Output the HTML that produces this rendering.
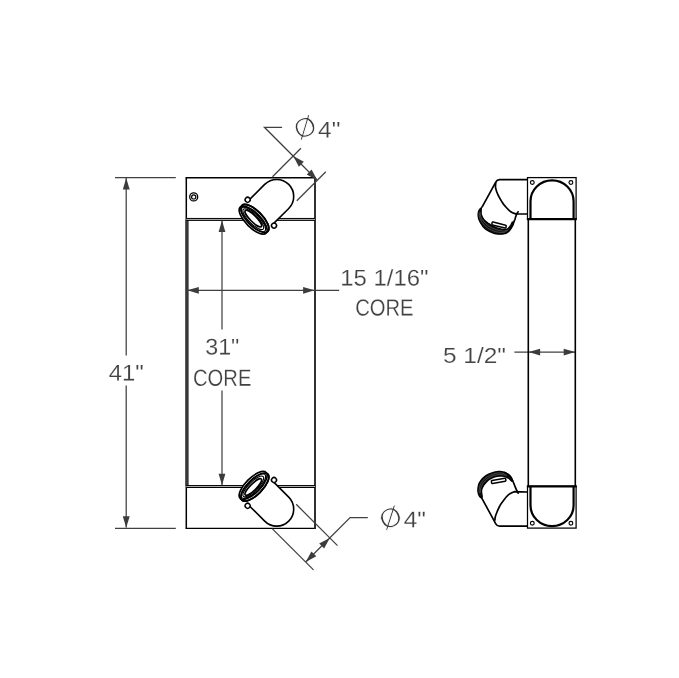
<!DOCTYPE html>
<html lang="en">
<head>
<meta charset="utf-8">
<title>Charge Air Cooler Drawing</title>
<style>
html,body{margin:0;padding:0;background:#fff;}
body{width:679px;height:678px;overflow:hidden;}
svg{display:block;will-change:transform;}
text{font-family:"Liberation Sans",sans-serif;fill:#424242;font-size:23.2px;stroke:#fff;stroke-width:0.18px;}
.n{font-size:22.7px;}
.dia{font-size:27.4px;stroke-width:0.95px;fill:#3a3a3a;}
.o{stroke:#000;}
.d{stroke:#404040;}
.a{fill:#3c3c3c;stroke:none;}
</style>
</head>
<body>
<svg width="679" height="678" viewBox="0 0 679 678">
<rect x="0" y="0" width="679" height="678" fill="#fff"/>


<!-- ===== FRONT VIEW ===== -->
<g fill="none">
<line x1="185.55" y1="177.7" x2="315.9" y2="177.7" class="o" stroke-width="1.55"/>
<line x1="186.3" y1="177.7" x2="186.3" y2="528.4" class="o" stroke-width="1.5"/>
<line x1="185.55" y1="528.35" x2="315.9" y2="528.35" class="o" stroke-width="1.25"/>
<line x1="187.05" y1="219.4" x2="187.05" y2="486" stroke="#383838" stroke-width="3.2"/>
<line x1="315" y1="177.7" x2="315" y2="528.4" stroke="#2c2c2c" stroke-width="1.95"/>
<line x1="186.3" y1="219.4" x2="315" y2="219.4" stroke="#b5b5b5" stroke-width="1.6"/>
<line x1="186.3" y1="218.45" x2="315" y2="218.45" class="o" stroke-width="1"/>
<line x1="186.3" y1="220.4" x2="315" y2="220.4" class="o" stroke-width="1"/>
<line x1="186.3" y1="486.5" x2="315" y2="486.5" stroke="#b5b5b5" stroke-width="1.6"/>
<line x1="186.3" y1="485.55" x2="315" y2="485.55" class="o" stroke-width="1"/>
<line x1="186.3" y1="487.5" x2="315" y2="487.5" class="o" stroke-width="1"/>
<circle cx="193.7" cy="196.9" r="4" class="o" stroke-width="1.3"/>
<circle cx="193.7" cy="196.9" r="2.1" class="o" stroke-width="1.2"/>
</g>

<g fill="none" stroke-width="1.25">
<!-- 31" CORE dimension -->
<line x1="222" y1="221" x2="222" y2="329.5" class="d"/>
<line x1="222" y1="390.5" x2="222" y2="485" class="d"/>
<!-- 15 1/16" CORE dimension -->
<line x1="187" y1="290.3" x2="339.2" y2="290.3" class="d"/>
<!-- 41" dimension -->
<line x1="115" y1="177.5" x2="175.8" y2="177.5" class="d"/>
<line x1="115" y1="528.35" x2="175.8" y2="528.35" class="d"/>
<line x1="126.2" y1="178" x2="126.2" y2="355.6" class="d"/>
<line x1="126.2" y1="385.4" x2="126.2" y2="527.5" class="d"/>
<!-- top diameter dimension -->
<line x1="272.5" y1="176.7" x2="300.9" y2="148.3" class="d"/>
<line x1="296.8" y1="200.8" x2="325.8" y2="171.8" class="d"/>
<polyline points="282.1,127.3 264.4,127.3 317,180" class="d"/>
<!-- bottom diameter dimension -->
<line x1="296.2" y1="504.3" x2="337.5" y2="545.6" class="d"/>
<line x1="272.2" y1="528.6" x2="313.5" y2="569.9" class="d"/>
<polyline points="367.8,517.6 350.1,517.6 305.7,562" class="d"/>
<!-- 5 1/2" dimension -->
<line x1="514.4" y1="352.1" x2="575.4" y2="352.1" class="d"/>
</g>

<path d="M222.0,220.4 L218.6,231.9 L225.4,231.9 Z" class="a"/>
<path d="M222.0,485.2 L225.4,473.7 L218.6,473.7 Z" class="a"/>
<path d="M187.3,290.3 L198.8,293.8 L198.8,286.9 Z" class="a"/>
<path d="M314.6,290.3 L303.1,286.9 L303.1,293.8 Z" class="a"/>
<path d="M126.2,178.0 L122.8,189.5 L129.7,189.5 Z" class="a"/>
<path d="M126.2,527.8 L129.7,516.3 L122.8,516.3 Z" class="a"/>
<path d="M293.2,156.1 L298.9,166.7 L303.8,161.8 Z" class="a"/>
<path d="M317.3,180.2 L311.6,169.6 L306.7,174.5 Z" class="a"/>
<path d="M329.8,537.9 L319.2,543.6 L324.1,548.5 Z" class="a"/>
<path d="M305.7,562.0 L316.3,556.3 L311.4,551.4 Z" class="a"/>
<path d="M528.6,352.1 L540.1,355.6 L540.1,348.7 Z" class="a"/>
<path d="M575.2,352.1 L563.7,348.7 L563.7,355.6 Z" class="a"/>

<g id="labels" style="filter:grayscale(1)">
<text id="t31" class="n" x="222.3" y="354.6" text-anchor="middle" textLength="34.1" lengthAdjust="spacingAndGlyphs" transform="rotate(0.05 222.3 354.6)">31"</text>
<text id="tcoreL" x="222.2" y="385.7" text-anchor="middle" textLength="58.3" lengthAdjust="spacingAndGlyphs" transform="rotate(0.05 222.2 385.7)">CORE</text>
<text id="t15" class="n" x="384.4" y="285.6" text-anchor="middle" textLength="88.2" lengthAdjust="spacingAndGlyphs" transform="rotate(0.05 384.4 285.6)">15 1/16"</text>
<text id="tcoreR" x="384.4" y="315.6" text-anchor="middle" textLength="58.3" lengthAdjust="spacingAndGlyphs" transform="rotate(0.05 384.4 315.6)">CORE</text>
<text id="t41" class="n" x="126.15" y="380.6" text-anchor="middle" textLength="35" lengthAdjust="spacingAndGlyphs" transform="rotate(0.05 126.15 380.6)">41"</text>
<text id="dia1" class="dia" x="305" y="136.9" text-anchor="middle" textLength="22.1" lengthAdjust="spacingAndGlyphs" transform="rotate(-24 305 127.4)">Ø</text>
<text id="dia2" class="dia" x="390.5" y="527.1" text-anchor="middle" textLength="22.1" lengthAdjust="spacingAndGlyphs" transform="rotate(-23 390.5 517.6)">Ø</text>
<text id="t4a" class="n" x="329.2" y="137.6" text-anchor="middle" textLength="22.3" lengthAdjust="spacingAndGlyphs" transform="rotate(0.05 329.2 137.6)">4"</text>
<text id="t4b" class="n" x="414.9" y="527.2" text-anchor="middle" textLength="22.1" lengthAdjust="spacingAndGlyphs" transform="rotate(0.05 414.9 527.2)">4"</text>
<text id="t5" class="n" x="474.5" y="362.8" text-anchor="middle" textLength="63" lengthAdjust="spacingAndGlyphs" transform="rotate(0.05 474.5 362.8)">5 1/2"</text>
</g>

<!-- tubes -->
<g id="tube-top" fill="none">
    <g transform="translate(254,219.3) rotate(-45)">
      <path d="M0,-17.1 L32.2,-17.1 A17,17 0 0 1 32.2,16.9 L0,16.9 Z" fill="#fff" stroke="none"/>
      <path d="M11.4,-17.1 L32.2,-17.1 A17,17 0 0 1 32.2,16.9 L11.4,16.9" class="o" stroke-width="1.6"/>
      <circle cx="9.3" cy="-18.3" r="2.5" fill="#fff" class="o" stroke-width="1.5"/>
      <circle cx="9.7" cy="18.6" r="2.5" fill="#fff" class="o" stroke-width="1.5"/>
      <g>
      <ellipse cx="1.2" cy="0" rx="7.4" ry="18.35" fill="#fff" class="o" stroke-width="1.7"/>
      <ellipse cx="-1.2" cy="0" rx="7.4" ry="18.35" fill="#fff" class="o" stroke-width="1.7"/>
      <ellipse cx="1.2" cy="0" rx="7.4" ry="18.35" class="o" stroke-width="1.7"/>
      <ellipse cx="-0.7" cy="-0.3" rx="5.9" ry="16.4" class="o" stroke-width="1.2"/>
      <ellipse cx="-0.4" cy="-0.6" rx="4.5" ry="14" class="o" stroke-width="1.1"/>
      <ellipse cx="0" cy="-1" rx="3.1" ry="11.3" class="o" stroke-width="1.6"/>
      </g>
    </g>
  </g>
<g id="tube-bottom" fill="none" transform="translate(0,705.6) scale(1,-1)">
    <g transform="translate(254,219.3) rotate(-45)">
      <path d="M0,-17.1 L32.2,-17.1 A17,17 0 0 1 32.2,16.9 L0,16.9 Z" fill="#fff" stroke="none"/>
      <path d="M11.4,-17.1 L32.2,-17.1 A17,17 0 0 1 32.2,16.9 L11.4,16.9" class="o" stroke-width="1.6"/>
      <circle cx="9.3" cy="-18.3" r="2.5" fill="#fff" class="o" stroke-width="1.5"/>
      <circle cx="9.7" cy="18.6" r="2.5" fill="#fff" class="o" stroke-width="1.5"/>
      <g>
      <ellipse cx="1.2" cy="0" rx="7.4" ry="18.35" fill="#fff" class="o" stroke-width="1.7"/>
      <ellipse cx="-1.2" cy="0" rx="7.4" ry="18.35" fill="#fff" class="o" stroke-width="1.7"/>
      <ellipse cx="1.2" cy="0" rx="7.4" ry="18.35" class="o" stroke-width="1.7"/>
      <ellipse cx="-0.7" cy="-0.3" rx="5.9" ry="16.4" class="o" stroke-width="1.2"/>
      <ellipse cx="-0.4" cy="-0.6" rx="4.5" ry="14" class="o" stroke-width="1.1"/>
      <ellipse cx="0" cy="-1" rx="3.1" ry="11.3" class="o" stroke-width="1.6"/>
      </g>
    </g>
  </g>

<!-- ===== SIDE VIEW ===== -->
<line x1="528.3" y1="219.4" x2="528.3" y2="486.2" class="o" stroke-width="1.6"/>
<line x1="575.3" y1="219.4" x2="575.3" y2="486.2" class="o" stroke-width="1.6"/>
<g id="elbowT" fill="none">
    <path d="M527.5,179.6 L497.1,179.6 L481.9,207.4 L480.9,208.1 L480.0,208.9 L479.3,209.9 L478.7,211.0 L478.4,212.2 L478.1,213.4 L478.1,214.6 L478.1,215.8 L478.3,217.0 L478.5,218.2 L478.8,219.4 L479.3,220.5 L479.9,221.6 L480.5,222.7 L481.1,223.7 L481.7,224.8 L482.4,225.8 L483.1,226.8 L484.0,227.7 L484.9,228.5 L485.8,229.3 L486.8,230.0 L487.9,230.6 L488.9,231.2 L490.0,231.8 L491.1,232.3 L492.3,232.7 L493.4,233.1 L494.6,233.5 L495.8,233.7 L497.0,233.9 L498.2,234.1 L499.4,234.2 L500.7,234.2 L501.9,234.2 L503.1,234.0 L504.3,233.8 L505.4,233.3 L506.5,232.8 L507.5,232.1 L508.4,231.3 L509.3,230.4 L510.1,229.4 L510.8,228.4 L511.5,227.4 L512.1,226.4 L512.6,225.3 L513.1,224.1 L513.5,223.0 L513.9,221.8 L514.4,220.7 L514.8,219.6 L515.2,218.4 L515.5,217.2 L515.9,216.1 L516.3,214.9 L516.8,213.8 L517.4,212.7 L518.2,211.8 L527.5,214.0 Z" fill="#fff" stroke="none"/>
    <path d="M527.5,179.6 L499.5,179.6 Q497.1,179.6 495.9,181.9 L481.9,207.4" class="o" stroke-width="1.7" stroke-linejoin="round"/>
    <path d="M495.8,182.2 C495.8,183.1 495.2,185.7 495.6,187.8 C496.0,189.9 496.9,192.5 498.0,194.9 C499.1,197.3 500.9,200.2 502.0,202.0 C503.1,203.8 503.4,204.3 504.9,205.9 C506.4,207.5 509.0,210.5 510.8,211.8 C512.6,213.1 514.8,213.6 515.6,213.9 L527.5,214" class="o" stroke-width="1.7" stroke-linejoin="round"/>
    <path d="M481.9,207.4 L480.7,208.3 L479.6,209.4 L478.8,210.8 L478.4,212.2 L478.1,213.7 L478.1,215.3 L478.3,216.8 L478.5,218.4 L479.0,219.8 L479.7,221.2 L480.4,222.6 L481.2,223.9 L482.0,225.2 L482.9,226.5 L483.9,227.6 L485.1,228.7 L486.3,229.6 L487.6,230.4 L488.9,231.2 L490.3,231.9 L491.7,232.5 L493.1,233.1 L494.6,233.5 L496.1,233.8 L497.7,234.0 L499.2,234.2 L500.7,234.2 L502.3,234.1 L503.8,233.9 L505.3,233.4 L506.6,232.7 L507.9,231.8 L509.0,230.7 L510.0,229.5 L510.9,228.3 L511.7,227.0 L512.5,225.6 L513.1,224.2 L513.6,222.7 L512.3,222.1 L511.7,223.2 L511.2,224.2 L510.6,225.3 L509.9,226.3 L509.2,227.3 L508.4,228.2 L507.4,228.9 L506.3,229.4 L505.1,229.6 L503.9,229.5 L502.7,229.4 L501.5,229.1 L500.3,228.8 L499.1,228.5 L498.0,228.1 L496.8,227.8 L495.7,227.3 L494.6,226.9 L493.5,226.3 L492.4,225.8 L491.3,225.2 L490.3,224.6 L489.3,223.9 L488.2,223.2 L487.3,222.5 L486.3,221.8 L485.4,221.0 L484.5,220.1 L483.7,219.2 L483.0,218.2 L482.4,217.2 L481.9,216.1 L481.5,214.9 L481.2,213.8 L481.1,212.5 L481.2,211.3 L481.2,210.1 L481.3,208.9 L481.4,207.7 Z" fill="#111" class="o" stroke-width="1.3"/>
    <path d="M479.3,212.3 L479.1,213.8 L479.2,215.2 L479.5,216.6 L479.8,218.0 L480.3,219.3 L481.0,220.5 L481.8,221.7 L482.6,222.9 L483.4,224.1 L484.4,225.1 L485.4,226.2 L486.5,227.1 L487.6,227.9 L488.8,228.7 L490.1,229.4 L491.3,230.1 L492.6,230.6 L494.0,231.1 L495.4,231.6 L496.8,231.9 L498.2,232.2 L499.6,232.4 L501.0,232.5 L502.4,232.5 L503.8,232.4 L505.2,232.1 L506.5,231.6 L507.7,230.8 L508.8,229.9" stroke="#fff" stroke-width="0.4" stroke-opacity="0.55"/>
    <path d="M480.2,212.4 L480.2,213.8 L480.4,215.1 L480.7,216.3 L481.1,217.6 L481.7,218.8 L482.4,219.9 L483.2,220.9 L484.0,222.0 L484.9,222.9 L485.8,223.8 L486.8,224.7 L487.9,225.5 L488.9,226.2 L490.1,226.9 L491.2,227.6 L492.4,228.2 L493.6,228.7 L494.8,229.2 L496.1,229.7 L497.4,230.0 L498.6,230.3 L499.9,230.6 L501.2,230.8 L502.5,231.0 L503.8,231.0 L505.1,230.8 L506.4,230.5 L507.6,229.9 L508.6,229.0" stroke="#fff" stroke-width="0.4" stroke-opacity="0.55"/>
    <path d="M505.4,233.3 L506.5,232.8 L507.5,232.1 L508.4,231.3 L509.3,230.4 L510.1,229.4 L510.8,228.4 L511.5,227.4 L512.1,226.4 L512.6,225.3 L513.1,224.1 L513.5,223.0 L513.9,221.8 L514.4,220.7 L514.8,219.6 L515.2,218.4 L515.5,217.2 L515.9,216.1 L516.3,214.9 L516.8,213.8 L517.4,212.7 L518.2,211.8" class="o" stroke-width="1.7" stroke-linecap="round"/>
    <rect x="491.8" y="223.6" width="14.5" height="2.9" rx="0.8" transform="rotate(14 499.0 225.0)" fill="#fff" class="o" stroke-width="1.5"/>
  </g>
<g id="elbowB" fill="none">
    <path d="M527.5,526.1 L497.1,526.1 L481.8,498.2 L480.8,497.5 L479.8,496.8 L479.2,495.8 L478.7,494.6 L478.3,493.5 L478.0,492.3 L477.9,491.1 L477.8,489.8 L477.9,488.6 L478.1,487.4 L478.3,486.2 L478.5,485.0 L478.8,483.8 L479.4,482.7 L480.0,481.7 L480.7,480.7 L481.4,479.7 L482.2,478.8 L483.1,477.9 L484.0,477.1 L484.9,476.3 L485.9,475.6 L487.0,475.0 L488.1,474.5 L489.2,473.9 L490.3,473.4 L491.4,473.0 L492.6,472.6 L493.8,472.2 L495.0,471.9 L496.2,471.7 L497.4,471.5 L498.6,471.4 L499.8,471.4 L501.0,471.5 L502.2,471.7 L503.4,472.0 L504.6,472.4 L505.7,472.9 L506.7,473.5 L507.8,474.1 L508.7,474.9 L509.6,475.7 L510.4,476.6 L511.1,477.6 L511.7,478.7 L512.2,479.8 L512.7,480.9 L513.2,482.0 L513.7,483.2 L514.2,484.3 L514.6,485.4 L515.1,486.6 L515.5,487.7 L516.0,488.8 L516.5,489.9 L517.1,491.0 L517.6,492.1 L518.2,493.2 L527.5,492.0 Z" fill="#fff" stroke="none"/>
    <path d="M527.5,526.1 L499.5,526.1 Q497.1,526.1 495.8,523.8 L481.8,498.2" class="o" stroke-width="1.7" stroke-linejoin="round"/>
    <path d="M494.9,520.6 C495.0,520.0 494.9,518.3 495.3,516.8 C495.7,515.3 496.4,513.4 497.2,511.5 C498.0,509.6 498.8,507.6 499.9,505.7 C500.9,503.8 502.1,502.2 503.5,500.4 C504.9,498.5 506.8,496.1 508.6,494.6 C510.4,493.2 513.3,492.2 514.2,491.7 L527.5,492" class="o" stroke-width="1.7" stroke-linejoin="round"/>
    <path d="M481.8,498.2 L480.5,497.4 L479.5,496.3 L478.8,495.0 L478.3,493.6 L478.0,492.1 L477.8,490.6 L477.9,489.2 L478.0,487.7 L478.3,486.2 L478.6,484.7 L479.1,483.3 L479.8,482.0 L480.6,480.8 L481.5,479.6 L482.5,478.4 L483.6,477.4 L484.7,476.5 L486.0,475.6 L487.3,474.9 L488.6,474.2 L490.0,473.6 L491.4,473.0 L492.8,472.5 L494.2,472.1 L495.7,471.8 L497.1,471.6 L498.6,471.4 L500.1,471.4 L501.6,471.6 L503.1,471.9 L504.5,472.3 L505.9,473.0 L507.2,473.7 L508.4,474.6 L509.5,475.6 L510.5,476.7 L511.3,477.9 L512.0,479.3 L512.6,480.6 L511.6,481.2 L510.8,480.4 L510.0,479.5 L509.2,478.8 L508.3,478.1 L507.3,477.6 L506.2,477.1 L505.2,476.7 L504.1,476.4 L502.9,476.2 L501.8,476.2 L500.7,476.1 L499.5,476.2 L498.4,476.2 L497.3,476.4 L496.1,476.6 L495.0,476.9 L493.9,477.2 L492.9,477.6 L491.8,478.1 L490.8,478.6 L489.8,479.2 L488.9,479.8 L488.0,480.5 L487.2,481.3 L486.4,482.1 L485.6,483.0 L484.9,483.8 L484.2,484.7 L483.5,485.7 L483.0,486.7 L482.4,487.7 L482.0,488.7 L481.7,489.8 L481.6,491.0 L481.6,492.1 L481.7,493.2 L481.9,494.4 L482.1,495.5 L482.3,496.6 Z" fill="#111" class="o" stroke-width="1.3"/>
    <path d="M479.4,493.1 L479.2,491.7 L479.1,490.4 L479.3,489.0 L479.5,487.7 L479.8,486.3 L480.2,485.0 L480.8,483.8 L481.5,482.6 L482.3,481.5 L483.1,480.4 L484.1,479.4 L485.0,478.4 L486.1,477.6 L487.3,476.8 L488.5,476.1 L489.7,475.5 L490.9,474.9 L492.2,474.4 L493.5,474.0 L494.9,473.6 L496.2,473.3 L497.6,473.1 L498.9,473.0 L500.3,473.0 L501.7,473.1 L503.0,473.3 L504.4,473.7 L505.6,474.2 L506.9,474.8" stroke="#fff" stroke-width="0.4" stroke-opacity="0.55"/>
    <path d="M480.5,492.6 L480.4,491.4 L480.4,490.1 L480.6,488.9 L481.0,487.7 L481.4,486.5 L481.9,485.4 L482.5,484.3 L483.2,483.2 L483.9,482.2 L484.8,481.3 L485.6,480.3 L486.5,479.5 L487.5,478.7 L488.6,478.0 L489.6,477.4 L490.8,476.8 L491.9,476.3 L493.1,475.8 L494.3,475.4 L495.5,475.1 L496.7,474.9 L498.0,474.7 L499.2,474.6 L500.5,474.6 L501.7,474.6 L503.0,474.8 L504.2,475.0 L505.4,475.4 L506.5,475.9" stroke="#fff" stroke-width="0.4" stroke-opacity="0.55"/>
    <path d="M504.6,472.4 L505.7,472.9 L506.7,473.5 L507.8,474.1 L508.7,474.9 L509.6,475.7 L510.4,476.6 L511.1,477.6 L511.7,478.7 L512.2,479.8 L512.7,480.9 L513.2,482.0 L513.7,483.2 L514.2,484.3 L514.6,485.4 L515.1,486.6 L515.5,487.7 L516.0,488.8 L516.5,489.9 L517.1,491.0 L517.6,492.1 L518.2,493.2" class="o" stroke-width="1.7" stroke-linecap="round"/>
    <rect x="491.4" y="479.4" width="14.5" height="2.9" rx="0.8" transform="rotate(-10 498.7 480.9)" fill="#fff" class="o" stroke-width="1.5"/>
  </g>
<g id="tankT" fill="none">
    <rect x="527.5" y="177.6" width="48.6" height="41.7" class="o" fill="#fff" stroke-width="1.25"/>
    <path d="M530.5,219 L530.5,201.3 A21.55,21 0 0 1 573.6,201.3 L573.6,219" class="o" stroke-width="2.2"/>
    <circle cx="532.3" cy="182.5" r="1.9" class="o" stroke-width="1.15"/>
    <circle cx="570.9" cy="182.5" r="1.9" class="o" stroke-width="1.15"/>
    <line x1="526.9" y1="219.2" x2="576.7" y2="219.2" class="o" stroke-width="2.3"/>
  </g>
<g id="tankB" fill="none">
    <rect x="527.5" y="486.3" width="48.6" height="41.8" class="o" fill="#fff" stroke-width="1.25"/>
    <path d="M530.5,486.5 L530.5,505.2 A21.55,21 0 0 0 573.6,505.2 L573.6,486.5" class="o" stroke-width="2.2"/>
    <circle cx="532.3" cy="523.3" r="1.9" class="o" stroke-width="1.15"/>
    <circle cx="570.9" cy="523.3" r="1.9" class="o" stroke-width="1.15"/>
    <line x1="526.9" y1="486.4" x2="576.7" y2="486.4" class="o" stroke-width="2.3"/>
  </g>
</svg>
</body>
</html>
